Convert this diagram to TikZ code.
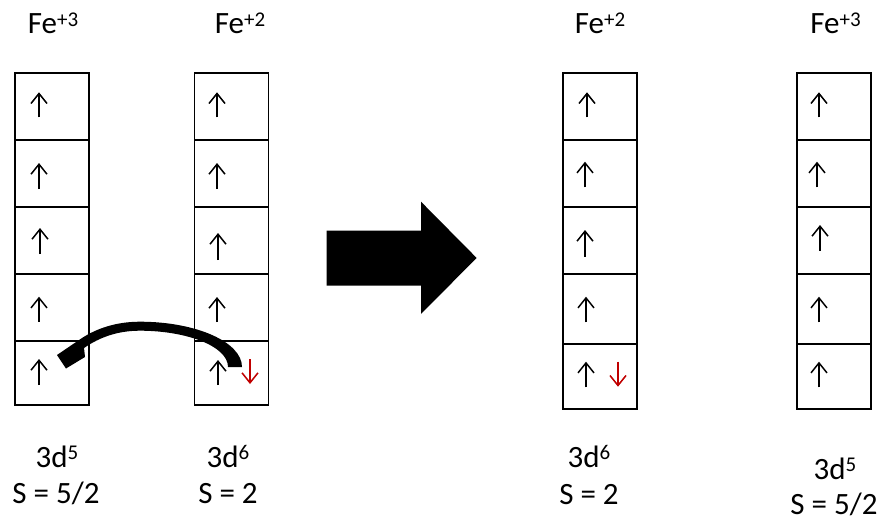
\documentclass[tikz,border=0pt]{standalone}
\usepackage{fontspec}
\setmainfont{Carlito}
\usetikzlibrary{arrows.meta}
\definecolor{spinred}{RGB}{192,0,0}
\newcommand{\supnum}[1]{\raisebox{8pt}{\fontsize{21}{21}\selectfont #1}}
\begin{document}
\begin{tikzpicture}[x=1pt,y=-1pt,
  box/.style={draw,line width=1.6pt,rectangle,inner sep=0pt,minimum width=74pt},
  lbl/.style={anchor=base,inner sep=0pt,font=\fontsize{31}{31}\selectfont},
  upspin/.style={line width=1.8pt,-{Straight Barb[length=10pt,width=16pt,line width=1.5pt]}},
  dnspin/.style={upspin,draw=spinred},
  bigarrow/.style={fill=black}]
\useasboundingbox (0,0) rectangle (879,522);

% boxes, columns 1 and 2
\foreach \c/\x in {1/52,2/231.5}{
  \node[box,minimum height=67.3pt] (b\c1) at (\x,106.35) {};
  \node[box,minimum height=66.7pt] (b\c2) at (\x,173.35) {};
  \node[box,minimum height=67.3pt] (b\c3) at (\x,240.35) {};
  \node[box,minimum height=67pt]   (b\c4) at (\x,307.5) {};
  \node[box,minimum height=63.7pt] (b\c5) at (\x,372.85) {};
}
% boxes, columns 3 and 4
\foreach \c/\x in {3/599.7,4/833.85}{
  \node[box,minimum height=67.3pt] (b\c1) at (\x,106.35) {};
  \node[box,minimum height=66.7pt] (b\c2) at (\x,173.35) {};
  \node[box,minimum height=67.3pt] (b\c3) at (\x,240.35) {};
  \node[box,minimum height=70pt]   (b\c4) at (\x,309) {};
  \node[box,minimum height=65pt]   (b\c5) at (\x,376.5) {};
}

% spins
\draw[upspin] (39,117.3) -- (39,92.3);
\draw[upspin] (39,189) -- (39,163);
\draw[upspin] (40,254) -- (40,228);
\draw[upspin] (39,321.7) -- (39,296.7);
\draw[upspin] (39,385) -- (39,359);

\draw[upspin] (217,117.3) -- (217,92.3);
\draw[upspin] (217,189) -- (217,163);
\draw[upspin] (218,260) -- (218,233);
\draw[upspin] (217,322) -- (217,297);
\draw[upspin] (218,385) -- (218,360);
\draw[dnspin] (250,359) -- (250,384);

\draw[upspin] (587,117.3) -- (587,92.3);
\draw[upspin] (585,187.3) -- (585,161.7);
\draw[upspin] (585,256.7) -- (585,230);
\draw[upspin] (586,322.3) -- (586,296.7);
\draw[upspin] (586,387.3) -- (586,361.7);
\draw[dnspin] (618,361.7) -- (618,386.7);

\draw[upspin] (819,117.3) -- (819,92.3);
\draw[upspin] (817,187.3) -- (817,161.7);
\draw[upspin] (820,250.7) -- (820,225);
\draw[upspin] (819,322.3) -- (819,296.7);
\draw[upspin] (819,387.3) -- (819,361.7);

% labels
\node[lbl] (t1) at (53,34) {Fe\supnum{+3}};
\node[lbl] (t2) at (240,34) {Fe\supnum{+2}};
\node[lbl] (t3) at (600,34) {Fe\supnum{+2}};
\node[lbl] (t4) at (835.5,34) {Fe\supnum{+3}};

\node[lbl] (c1) at (57,467) {3d\supnum{5}};
\node[lbl] (s1) at (56,503) {S = 5/2};
\node[lbl] (c2) at (228,467) {3d\supnum{6}};
\node[lbl] (s2) at (228,503) {S = 2};
\node[lbl] (c3) at (589,467) {3d\supnum{6}};
\node[lbl] (s3) at (589,504) {S = 2};
\node[lbl] (c4) at (835,479) {3d\supnum{5}};
\node[lbl] (s4) at (834,514.5) {S = 5/2};

% big block arrow
\fill[bigarrow] (326.7,230.5) -- (421,230.5) -- (421,201.7) -- (476.7,258)
  -- (421,313.8) -- (421,285.7) -- (326.7,285.7) -- cycle;

% curved electron-transfer arrow from b25 to b15
\coordinate (tailR) at (242,367);
\coordinate (tailL) at (228,367);
\coordinate (peakO) at (140,321.7);
\coordinate (peakI) at (140,330.7);
\fill (tailR) .. controls (242,342) and (196,321.7) .. (peakO)
  .. controls (115,321.7) and (96,329) .. (82,338)
  -- (57,355) -- (66,368.5) -- (85,357) -- (84,348)
  .. controls (100,337) and (118,330.7) .. (peakI)
  .. controls (186,330.7) and (228,346) .. (tailL) -- cycle;
\end{tikzpicture}
\end{document}
